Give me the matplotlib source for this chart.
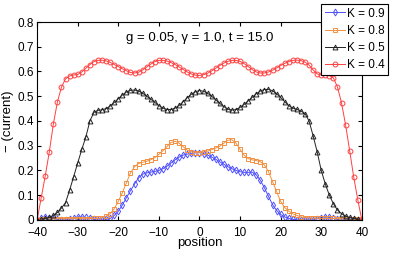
import matplotlib
matplotlib.use("Agg")
import matplotlib.pyplot as plt

plt.rcParams['font.family'] = ['Liberation Sans', 'DejaVu Sans']

# positions -40 .. 40
position = list(range(-40, 41))

k09 = [0.0, 0.008, 0.010, 0.008, 0.005, 0.002, 0.0, 0.0, 0.002, 0.006,
       0.010, 0.012, 0.010, 0.006, 0.002, 0.0, 0.0, 0.002, 0.006, 0.018,
       0.035, 0.060, 0.090, 0.118, 0.145, 0.170, 0.185, 0.190, 0.193, 0.196,
       0.200, 0.207, 0.217, 0.230, 0.243, 0.254, 0.262, 0.266, 0.269, 0.271,
       0.272,
       0.268, 0.262, 0.254, 0.245, 0.235, 0.225, 0.215, 0.207, 0.200, 0.195,
       0.192, 0.192, 0.193, 0.182, 0.160, 0.130, 0.095, 0.062, 0.038, 0.022,
       0.012, 0.006, 0.002, 0.0, 0.0, 0.0, 0.0, 0.0, 0.004, 0.008,
       0.011, 0.010, 0.006, 0.002, 0.0, 0.0, 0.0, 0.0, 0.0, 0.0]

k08 = [0.0, 0.003, 0.004, 0.004, 0.004, 0.005, 0.005, 0.005, 0.005, 0.005,
       0.005, 0.005, 0.005, 0.005, 0.006, 0.006, 0.008, 0.015, 0.025, 0.045,
       0.075, 0.110, 0.150, 0.190, 0.215, 0.228, 0.233, 0.237, 0.243, 0.252,
       0.265, 0.280, 0.297, 0.313, 0.318, 0.310, 0.295, 0.282, 0.275, 0.272,
       0.272,
       0.274, 0.278, 0.284, 0.290, 0.298, 0.310, 0.322, 0.324, 0.310, 0.285,
       0.262, 0.248, 0.243, 0.240, 0.235, 0.222, 0.195, 0.155, 0.115, 0.075,
       0.050, 0.035, 0.025, 0.018, 0.012, 0.009, 0.008, 0.007, 0.007, 0.006,
       0.006, 0.006, 0.006, 0.005, 0.005, 0.004, 0.003, 0.003, 0.002, 0.0]

k05 = [0.0, 0.003, 0.006, 0.010, 0.018, 0.030, 0.048, 0.070, 0.120, 0.175,
       0.230, 0.285, 0.335, 0.400, 0.435, 0.443, 0.445, 0.450, 0.460, 0.475,
       0.490, 0.505, 0.517, 0.524, 0.525, 0.521, 0.512, 0.500, 0.488, 0.475,
       0.462, 0.452, 0.446, 0.446, 0.452, 0.463, 0.478, 0.494, 0.508, 0.518,
       0.523,
       0.520, 0.512, 0.500, 0.486, 0.471, 0.458, 0.448, 0.444, 0.446, 0.455,
       0.467, 0.481, 0.496, 0.510, 0.521, 0.527, 0.528, 0.522, 0.510, 0.495,
       0.478, 0.462, 0.452, 0.447, 0.440, 0.430, 0.400, 0.340, 0.275, 0.200,
       0.145, 0.100, 0.065, 0.040, 0.025, 0.015, 0.010, 0.006, 0.003, 0.0]

k04 = [0.0, 0.089, 0.178, 0.275, 0.388, 0.477, 0.537, 0.570, 0.582, 0.586,
       0.588, 0.598, 0.613, 0.628, 0.640, 0.645, 0.646, 0.643, 0.637, 0.628,
       0.620, 0.611, 0.603, 0.596, 0.594, 0.597, 0.606, 0.618, 0.630, 0.640,
       0.645, 0.645, 0.642, 0.636, 0.628, 0.618, 0.608, 0.598, 0.590, 0.585,
       0.584,
       0.587, 0.593, 0.602, 0.613, 0.624, 0.634, 0.641, 0.645, 0.645, 0.641,
       0.632, 0.620, 0.608, 0.598, 0.594, 0.594, 0.598, 0.605, 0.614, 0.624,
       0.633, 0.640, 0.645, 0.646, 0.644, 0.638, 0.626, 0.606, 0.590, 0.586,
       0.585, 0.583, 0.574, 0.537, 0.473, 0.384, 0.280, 0.174, 0.082, 0.0]

series = [("K = 0.9", k09, "#5050ff", "d"),
          ("K = 0.8", k08, "#f39040", "s"),
          ("K = 0.5", k05, "#222222", "^"),
          ("K = 0.4", k04, "#ff4040", "o")]

fig = plt.figure(figsize=(3.95, 2.56), dpi=100)
ax = fig.add_axes([0.094, 0.141, 0.822, 0.773])

for lab, vals, col, mk in series:
    ax.plot(position, vals, color=col, marker=mk, markersize=3.5, markerfacecolor="none",
            markeredgewidth=0.7, linewidth=0.7, label=lab)

ax.set_xlim(-40, 40)
ax.set_ylim(0, 0.8)
ax.set_xticks(range(-40, 41, 10))
ax.set_yticks([0, 0.1, 0.2, 0.3, 0.4, 0.5, 0.6, 0.7, 0.8])
ax.set_yticklabels(["0", "0.1", "0.2", "0.3", "0.4", "0.5", "0.6", "0.7", "0.8"])
ax.tick_params(direction="in", top=True, right=True, labelsize=8.5, length=3, pad=2.5)
ax.tick_params(axis="x", pad=5)
ax.set_xlabel("position", fontsize=9.5, labelpad=-1)
ax.set_ylabel("\u2212 (current)", fontsize=9.5, labelpad=2)
ax.text(0, 0.735, "g = 0.05, \u03b3 = 1.0, t = 15.0", ha="center", va="center", fontsize=9.5)

leg = ax.legend(loc="upper left", bbox_to_anchor=(321 / 395, 1 - 4 / 256),
                bbox_transform=fig.transFigure, fontsize=8.5, fancybox=False,
                framealpha=1, edgecolor="black", borderpad=0.3, labelspacing=0.45,
                handlelength=1.7, handletextpad=0.2, borderaxespad=0)
leg.get_frame().set_linewidth(0.8)

fig.savefig("out.png", dpi=100)
